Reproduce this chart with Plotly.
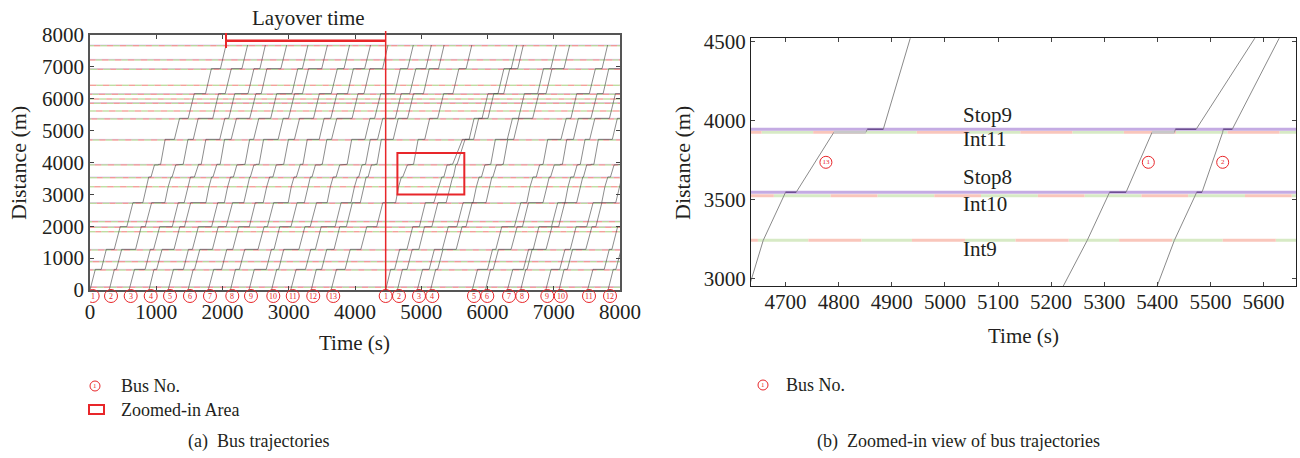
import plotly.graph_objects as go

W, H = 1300, 458
FONT = "Liberation Serif"
RED = "#e8262a"
TXT = "#231f20"

# ---------------- data ----------------
# distance levels (m) at which buses stop / wait
LEVELS = [0, 647, 1275, 1987, 2740, 3240, 3544, 3924, 3943, 4726, 5385, 6160, 6944, 7684]

# signalised intersections (m), red start within cycle (s), red length (s)
INT_D = [85, 627, 888, 1255, 1829, 1967, 2143, 2720, 3240, 3523, 3924, 4706, 5365, 5616, 5857, 5992, 6140, 6422, 6924, 7216, 7664]
INT_RED_START = [10, 150, 40, 120, 80, 170, 30, 100, 63, 105, 72, 140, 20, 90, 160, 50, 130, 0, 110, 180, 60]
INT_RED_LEN = [95, 90, 100, 95, 90, 100, 95, 90, 100, 88, 98, 95, 90, 100, 95, 90, 100, 95, 90, 100, 95]
CYCLE = 195

# bus stops (m)
STOP_D = [105, 647, 908, 1275, 1987, 2163, 2740, 3544, 3943, 4726, 5385, 5876, 6160, 6944, 7236, 7684]

# departures (s), running times between levels (s), dwell/wait at levels (s)
RUN1_DEP = [0, 290, 590, 890, 1180, 1480, 1785, 2120, 2400, 2740, 3030, 3340, 3640]
RUN1_RUN = [
    [80, 76, 90, 92, 48, 40, 52, 3, 68, 78, 92, 88, 84],
    [78, 80, 86, 96, 50, 44, 55, 3, 72, 74, 88, 92, 86],
    [82, 78, 92, 90, 52, 42, 50, 3, 70, 76, 90, 90, 82],
    [76, 82, 88, 94, 46, 40, 56, 3, 66, 80, 94, 86, 88],
    [80, 76, 90, 92, 50, 42, 52, 3, 70, 78, 90, 88, 84],
    [78, 80, 88, 96, 48, 40, 54, 3, 68, 76, 92, 90, 86],
    [82, 78, 90, 90, 52, 44, 50, 3, 72, 78, 88, 92, 84],
    [76, 80, 92, 94, 46, 42, 56, 3, 66, 74, 94, 88, 88],
    [80, 78, 86, 92, 50, 40, 52, 3, 70, 80, 90, 90, 82],
    [78, 76, 90, 96, 48, 42, 54, 3, 68, 76, 92, 86, 86],
    [82, 80, 88, 90, 52, 44, 50, 3, 72, 78, 88, 92, 84],
    [76, 78, 86, 90, 48, 40, 50, 3, 66, 76, 90, 88, 84],
    [80, 78, 90, 92, 45, 42, 71, 3, 69, 75, 90, 90, 85],
]
RUN1_DWELL = [
    [90, 120, 100, 150, 0, 35, 60, 30, 140, 130, 170, 137],
    [30, 210, 60, 200, 0, 15, 90, 20, 80, 220, 100, 160],
    [160, 50, 190, 90, 0, 60, 10, 40, 210, 60, 200, 90],
    [40, 180, 70, 230, 0, 20, 0, 50, 100, 200, 80, 210],
    [150, 60, 200, 100, 0, 45, 100, 20, 60, 180, 230, 70],
    [20, 190, 120, 170, 0, 10, 30, 45, 220, 80, 120, 200],
    [120, 90, 160, 120, 0, 50, 95, 15, 90, 210, 180, 100],
    [60, 200, 50, 220, 0, 35, 0, 40, 180, 100, 160, 170],
    [180, 40, 170, 110, 0, 25, 80, 20, 70, 230, 90, 190],
    [30, 230, 80, 160, 0, 45, 60, 50, 200, 70, 210, 110],
    [140, 70, 210, 150, 0, 20, 20, 30, 110, 190, 130, 150],
    [80, 110, 100, 120, 0, 30, 50, 30, 180, 140, 150, 140],
    [130, 160, 150, 193, 0, 20, 60, 30, 100, 120, 140, 110],
]
RUN2_DEP = [4463, 4640, 4940, 5140, 5770, 5970, 6300, 6500, 6880, 7080, 7510, 7820]
RUN2_RUN = [
    [75, 76, 88, 90, 78, 42, 49, 2, 150, 75, 90, 90, 85],
    [76, 78, 86, 92, 56, 42, 39, 1, 120, 76, 88, 92, 84],
    [80, 78, 90, 94, 50, 42, 52, 3, 70, 78, 90, 88, 84],
    [78, 80, 88, 92, 48, 40, 54, 3, 68, 76, 92, 90, 86],
    [80, 76, 90, 96, 50, 44, 50, 3, 70, 80, 88, 92, 84],
    [76, 80, 92, 90, 52, 42, 56, 3, 66, 74, 94, 86, 88],
    [82, 78, 86, 94, 46, 40, 52, 3, 72, 78, 90, 90, 82],
    [78, 76, 90, 92, 50, 42, 50, 3, 68, 76, 92, 88, 86],
    [80, 80, 88, 96, 48, 44, 54, 3, 70, 80, 88, 92, 84],
    [76, 78, 92, 90, 52, 40, 50, 3, 66, 76, 90, 86, 88],
    [82, 76, 86, 94, 50, 42, 56, 3, 72, 78, 94, 90, 82],
    [78, 80, 90, 92, 46, 44, 52, 3, 68, 74, 88, 88, 86],
]
RUN2_DWELL = [
    [60, 110, 100, 128, 0, 31, 42, 39, 100, 120, 150, 110],
    [70, 100, 110, 124, 0, 10, 0, 17, 130, 140, 150, 120],
    [100, 120, 130, 150, 0, 35, 55, 30, 180, 90, 200, 110],
    [30, 200, 60, 210, 0, 15, 80, 20, 90, 210, 110, 180],
    [150, 50, 190, 90, 0, 50, 10, 40, 200, 70, 190, 100],
    [40, 190, 80, 220, 0, 20, 90, 30, 100, 190, 90, 200],
    [160, 70, 190, 110, 0, 45, 20, 25, 70, 220, 170, 80],
    [20, 210, 100, 180, 0, 10, 60, 45, 210, 90, 130, 190],
    [130, 80, 160, 130, 0, 40, 100, 20, 80, 200, 200, 110],
    [50, 200, 60, 210, 0, 25, 0, 35, 190, 110, 150, 160],
    [170, 40, 200, 100, 0, 30, 75, 25, 60, 230, 90, 200],
    [40, 220, 90, 170, 0, 45, 60, 50, 200, 80, 210, 100],
]

# bus-number labels under the left time axis (s)
RUN1_LABEL_T = [40, 317, 614, 916, 1208, 1509, 1811, 2148, 2430, 2767, 3060, 3370, 3672]
RUN2_LABEL_T = [4463, 4664, 4966, 5167, 5796, 5997, 6325, 6525, 6903, 7105, 7532, 7849]
# bus labels inside zoomed view: (bus no., time, distance)
ZOOM_LABELS = [("13", 4776, 3734), ("1", 5383, 3734), ("2", 5523, 3734)]
# labelled lines in zoomed view
ZOOM_LINE_NAMES = ["Stop9", "Int11", "Stop8", "Int10", "Int9"]
ZOOM_LINE_LABEL_Y = [4033, 3882, 3643, 3470, 3184]

LAYOVER_START, LAYOVER_END = 2053, 4463
ZOOM_BOX = (4640, 5650, 3000, 4300)

# ---------------- helpers ----------------
def px(x):
    return x / W

def py(y):
    return 1 - y / H

def trajectory(dep, run, dwell):
    t = dep
    xs, ys, dw = [t], [LEVELS[0]], []
    for k in range(1, len(LEVELS)):
        t += run[k - 1]
        xs.append(t); ys.append(LEVELS[k])
        if k - 1 < len(dwell) and dwell[k - 1] > 0:
            dw.append((t, t + dwell[k - 1], LEVELS[k]))
            t += dwell[k - 1]
            xs.append(t); ys.append(LEVELS[k])
    return xs, ys, dw

trips = []
for dep, run, dwell in zip(RUN1_DEP, RUN1_RUN, RUN1_DWELL):
    trips.append(trajectory(dep, run, dwell))
for dep, run, dwell in zip(RUN2_DEP, RUN2_RUN, RUN2_DWELL):
    trips.append(trajectory(dep, run, dwell))

fig = go.Figure()

def add_signals(xa, ya, width, red_col, green_col):
    for d, o, r in zip(INT_D, INT_RED_START, INT_RED_LEN):
        rx, ry, gx, gy = [], [], [], []
        for k in range(-1, 9000 // CYCLE + 2):
            s = o + k * CYCLE
            rx += [s, s + r, None]; ry += [d, d, None]
            gx += [s + r, s + CYCLE, None]; gy += [d, d, None]
        fig.add_trace(go.Scatter(x=gx, y=gy, mode="lines", xaxis=xa, yaxis=ya,
                                 line=dict(color=green_col, width=width), hoverinfo="skip"))
        fig.add_trace(go.Scatter(x=rx, y=ry, mode="lines", xaxis=xa, yaxis=ya,
                                 line=dict(color=red_col, width=width), hoverinfo="skip"))

def add_stops(xa, ya, width, col):
    sx, sy = [], []
    for d in STOP_D:
        sx += [-500, 9000, None]; sy += [d, d, None]
    fig.add_trace(go.Scatter(x=sx, y=sy, mode="lines", xaxis=xa, yaxis=ya,
                             line=dict(color=col, width=width), hoverinfo="skip"))

def add_trips(xa, ya, col, width):
    tx, ty = [], []
    for xs, ys, _ in trips:
        tx += xs + [None]; ty += ys + [None]
    fig.add_trace(go.Scatter(x=tx, y=ty, mode="lines", xaxis=xa, yaxis=ya,
                             line=dict(color=col, width=width), hoverinfo="skip"))

# left panel
add_stops("x", "y", 1, "rgba(200,170,230,0.6)")
add_signals("x", "y", 1.4, "rgba(240,130,120,0.75)", "rgba(170,210,130,0.75)")
add_trips("x", "y", "#3f3f3f", 0.6)

# right panel
add_signals("x2", "y2", 3, "#f9c6bb", "#d7eac5")
add_stops("x2", "y2", 3, "#c4abe3")
add_trips("x2", "y2", "#8a8a8a", 1)
wx, wy, sx, sy = [], [], [], []
for _, _, dw in trips:
    for a, b, d in dw:
        if d in STOP_D:
            sx += [a, b, None]; sy += [d, d, None]
        else:
            wx += [a, b, None]; wy += [d, d, None]
fig.add_trace(go.Scatter(x=wx, y=wy, mode="lines", xaxis="x2", yaxis="y2",
                         line=dict(color="#c8c8c8", width=3), hoverinfo="skip"))
fig.add_trace(go.Scatter(x=sx, y=sy, mode="lines", xaxis="x2", yaxis="y2",
                         line=dict(color="#6e4f93", width=1.5), hoverinfo="skip"))

# bus number circles (right)
fig.add_trace(go.Scatter(x=[l[1] for l in ZOOM_LABELS], y=[l[2] for l in ZOOM_LABELS],
                         mode="markers+text", text=[l[0] for l in ZOOM_LABELS],
                         textposition="middle center", xaxis="x2", yaxis="y2",
                         textfont=dict(family=FONT, size=7, color=RED),
                         marker=dict(symbol="circle-open", size=12, color=RED, line=dict(width=1))))

shapes = []
ann = []

def text(x, y, s, size=21, xanchor="center", angle=0, xref="paper", yref="paper", color=TXT):
    ann.append(dict(x=x, y=y, xref=xref, yref=yref, text=s, showarrow=False, xanchor=xanchor,
                    yanchor="middle", textangle=angle, font=dict(family=FONT, size=size, color=color)))

# bus number circles (left), just below the time axis
lab_t = RUN1_LABEL_T + RUN2_LABEL_T
lab_n = [str(i + 1) for i in range(len(RUN1_LABEL_T))] + [str(i + 1) for i in range(len(RUN2_LABEL_T))]
for t, n in zip(lab_t, lab_n):
    shapes.append(dict(type="circle", xref="x", xsizemode="pixel", xanchor=t, x0=-6.5, x1=6.5,
                       yref="paper", y0=py(302.5), y1=py(289.5), line=dict(color=RED, width=1)))
    text(t, py(296), n, 8, xref="x", color=RED)

# zoomed-in area rectangle
shapes.append(dict(type="rect", xref="x", yref="y", x0=ZOOM_BOX[0], x1=ZOOM_BOX[1],
                   y0=ZOOM_BOX[2], y1=ZOOM_BOX[3], line=dict(color=RED, width=2)))
# layover markers
shapes.append(dict(type="line", xref="x", yref="paper", x0=LAYOVER_END, x1=LAYOVER_END,
                   y0=py(290), y1=py(31), line=dict(color=RED, width=1.5)))
shapes.append(dict(type="line", xref="x", yref="paper", x0=LAYOVER_START, x1=LAYOVER_END,
                   y0=py(40.7), y1=py(40.7), line=dict(color=RED, width=2.5)))
shapes.append(dict(type="line", xref="x", yref="paper", x0=LAYOVER_START, x1=LAYOVER_START,
                   y0=py(33), y1=py(48), line=dict(color=RED, width=2)))
# legend symbols
shapes.append(dict(type="rect", xref="paper", yref="paper", x0=px(89), x1=px(104),
                   y0=py(414), y1=py(405), line=dict(color=RED, width=2)))
for cx, cy in [(95, 386), (763, 385)]:
    shapes.append(dict(type="circle", xref="paper", yref="paper", x0=px(cx - 5), x1=px(cx + 5),
                       y0=py(cy + 5), y1=py(cy - 5), line=dict(color=RED, width=1)))
    text(px(cx), py(cy), "1", 7, color=RED)

text(px(308), py(18), "Layover time", 21)
text(px(18), py(163), "Distance (m)", 22, angle=-90)
text(px(355), py(343), "Time (s)", 21)
text(px(682), py(163), "Distance (m)", 22, angle=-90)
text(px(1023), py(336), "Time (s)", 21)
text(px(119), py(386), "Bus No.", 18, xanchor="left")
text(px(119), py(410), "Zoomed-in Area", 18, xanchor="left")
text(px(784), py(385), "Bus No.", 18, xanchor="left")
text(px(258), py(441), "(a)\u00a0\u00a0Bus trajectories", 18)
text(px(958), py(441), "(b)\u00a0\u00a0Zoomed-in view of bus trajectories", 18)
for name, yv in zip(ZOOM_LINE_NAMES, ZOOM_LINE_LABEL_Y):
    text(5030, yv, name, 21, xanchor="left", xref="x2", yref="y2")

axis_common = dict(showgrid=False, zeroline=False, ticks="inside", ticklen=4, showline=True,
                   automargin=False, mirror="ticks",
                   tickfont=dict(family=FONT, size=21, color=TXT))

fig.update_layout(
    width=W, height=H, margin=dict(l=0, r=0, t=0, b=0),
    paper_bgcolor="white", plot_bgcolor="white", showlegend=False,
    xaxis=dict(domain=[px(90), px(620)], range=[0, 8000], tickvals=list(range(0, 8001, 1000)),
               anchor="y", linecolor="#555", linewidth=1.6, ticklabelstandoff=2, **axis_common),
    yaxis=dict(domain=[py(290), py(35)], range=[0, 8000], tickvals=list(range(0, 8001, 1000)),
               anchor="x", linecolor="#555", linewidth=1.6, **axis_common),
    xaxis2=dict(domain=[px(751), px(1296)], range=[4635, 5661], tickvals=list(range(4700, 5601, 100)),
                anchor="y2", linecolor="#222", linewidth=1, ticklabelstandoff=-3, **axis_common),
    yaxis2=dict(domain=[py(286), py(38.3)], range=[2951, 4519], tickvals=[3000, 3500, 4000, 4500],
                anchor="x2", linecolor="#222", linewidth=1, **axis_common),
    shapes=shapes, annotations=ann,
)

fig.write_html("out.html")
